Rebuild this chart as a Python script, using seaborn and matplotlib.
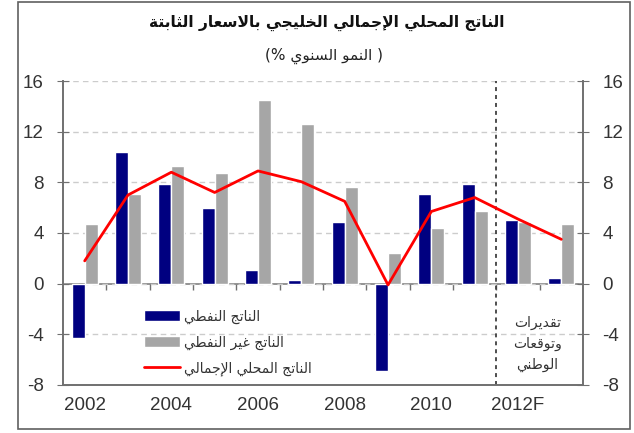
import numpy as np
import pandas as pd
import matplotlib
matplotlib.use('Agg')
import matplotlib.pyplot as plt
import seaborn as sns
from matplotlib.patches import Rectangle

# data
years = ['2002', '2003', '2004', '2005', '2006', '2007',
         '2008', '2009', '2010', '2011', '2012', '2013']
oil = [-4.3, 10.4, 7.9, 6.0, 1.1, 0.3, 4.9, -6.9, 7.1, 7.85, 5.0, 0.45]
non_oil = [4.7, 7.1, 9.3, 8.7, 14.5, 12.6, 7.6, 2.4, 4.4, 5.7, 4.9, 4.7]
total = [1.8, 7.0, 8.8, 7.2, 8.9, 8.05, 6.5, -0.1, 5.7, 6.8, 5.1, 3.5]
xtick_labels = ['2002', '2004', '2006', '2008', '2010', '2012F']

title = 'الناتج المحلي الإجمالي الخليجي بالاسعار الثابتة'
subtitle = '( النمو السنوي %)'
oil_label = 'الناتج النفطي'
non_oil_label = 'الناتج غير النفطي'
total_label = 'الناتج المحلي الإجمالي'
note = ['تقديرات', 'وتوقعات', 'الوطني']

# matplotlib has no arabic shaping, so map letters to presentation forms
# and reverse to visual order
FORMS = {
    'ا': (0xFE8D, 2), 'إ': (0xFE87, 2), 'ب': (0xFE8F, 4), 'ة': (0xFE93, 2),
    'ت': (0xFE95, 4), 'ث': (0xFE99, 4), 'ج': (0xFE9D, 4), 'ح': (0xFEA1, 4),
    'خ': (0xFEA5, 4), 'د': (0xFEA9, 2), 'ر': (0xFEAD, 2), 'س': (0xFEB1, 4),
    'ط': (0xFEC1, 4), 'ع': (0xFEC9, 4), 'غ': (0xFECD, 4), 'ف': (0xFED1, 4),
    'ق': (0xFED5, 4), 'ل': (0xFEDD, 4), 'م': (0xFEE1, 4), 'ن': (0xFEE5, 4),
    'و': (0xFEED, 2), 'ي': (0xFEF1, 4), 'لا': (0xFEFB, 2), 'لإ': (0xFEF9, 2),
}


def ar(text):
    units = []
    i = 0
    while i < len(text):
        if text[i:i + 2] in FORMS:
            units.append(text[i:i + 2])
            i += 2
        else:
            units.append(text[i])
            i += 1
    out = []
    for k, u in enumerate(units):
        if u not in FORMS:
            out.append(u)
            continue
        base, n = FORMS[u]
        prev = units[k - 1] if k > 0 else None
        nxt = units[k + 1] if k + 1 < len(units) else None
        jp = prev in FORMS and FORMS[prev][1] == 4
        jn = n == 4 and nxt in FORMS
        off = 3 if (jp and jn) else 1 if jp else 2 if jn else 0
        out.append(chr(base + off))
    mirror = {'(': ')', ')': '('}
    return ''.join(mirror.get(c, c) for c in reversed(out))


sns.set_style('white')
plt.rcParams['font.family'] = ['Liberation Sans', 'DejaVu Sans']
plt.rcParams['axes.unicode_minus'] = False
AR = ['DejaVu Sans']

df = pd.DataFrame({
    'year': years * 2,
    'value': oil + non_oil,
    'series': [ar(oil_label)] * len(years) + [ar(non_oil_label)] * len(years),
})

fig = plt.figure(figsize=(6.34, 4.33), dpi=100)
ax = fig.add_axes([0.0994, 0.1109, 0.8202, 0.702])

sns.barplot(data=df, x='year', y='value', hue='series', order=years,
            hue_order=[ar(oil_label), ar(non_oil_label)],
            palette=['#000080', '#A6A6A6'], saturation=1, width=0.6,
            ax=ax, zorder=3)
sns.lineplot(x=years, y=total, color='#FF0000', lw=2, ax=ax,
             label=ar(total_label), zorder=4)

ax.set_xlim(-0.5, 11.5)
ax.set_ylim(-8, 16)
ax.set_yticks(range(-8, 17, 4))
ax.set_xticks(range(0, 12, 2), xtick_labels)
ax.set_xlabel('')
ax.set_ylabel('')

ax.yaxis.grid(True, ls=(0, (4, 3)), color='#CCCCCC', lw=1, zorder=0)
# estimates/forecast divider between 2011 and 2012
ax.axvline(9.5, color='#404040', ls=(0, (2.2, 2.2)), lw=1.3, zorder=2)

for s in ['left', 'right', 'bottom']:
    ax.spines[s].set_color('#707070')
    ax.spines[s].set_linewidth(1.4)
ax.spines['top'].set_visible(False)

ax.tick_params(axis='y', left=True, right=True, labelleft=True,
               labelright=True, direction='inout', length=8,
               color='#707070', labelsize=13.5, labelcolor='#333333', pad=10)
ax.tick_params(axis='x', length=0, labelsize=13.5, labelcolor='#333333',
               pad=9)

# zero line with small ticks between the categories
sax = ax.secondary_xaxis(8 / 24)
sax.set_xticks(np.arange(0.5, 11, 1), [])
sax.tick_params(length=4, width=1, color='#707070', direction='out')
sax.spines['bottom'].set_color('#808080')
sax.spines['bottom'].set_linewidth(1.2)
sax.spines['top'].set_color('#808080')
sax.spines['top'].set_linewidth(1.2)

leg = ax.legend(loc='upper left', bbox_to_anchor=(0.132, 0.29),
                frameon=False, prop={'family': AR, 'size': 10},
                handlelength=2.6, handleheight=0.8, labelspacing=0.85,
                handletextpad=0.3)
for t in leg.get_texts():
    t.set_color('#333333')

ax.text(10.45, -4.75, '\n'.join(ar(w) for w in note), ha='center',
        va='center', family=AR, fontsize=10, color='#333333',
        linespacing=1.65)

fig.text(0.516, 0.948, ar(title), ha='center', va='center', family=AR,
         fontsize=11.2, fontweight='bold', color='#111111')
fig.text(0.511, 0.872, ar(subtitle), ha='center', va='center', family=AR,
         fontsize=11, color='#222222')

fig.patches.append(Rectangle((0.0284, 0.0092), 0.9653, 0.9862,
                             transform=fig.transFigure, fill=False,
                             edgecolor='#606060', lw=1.2))

fig.savefig('out.png', dpi=100)
